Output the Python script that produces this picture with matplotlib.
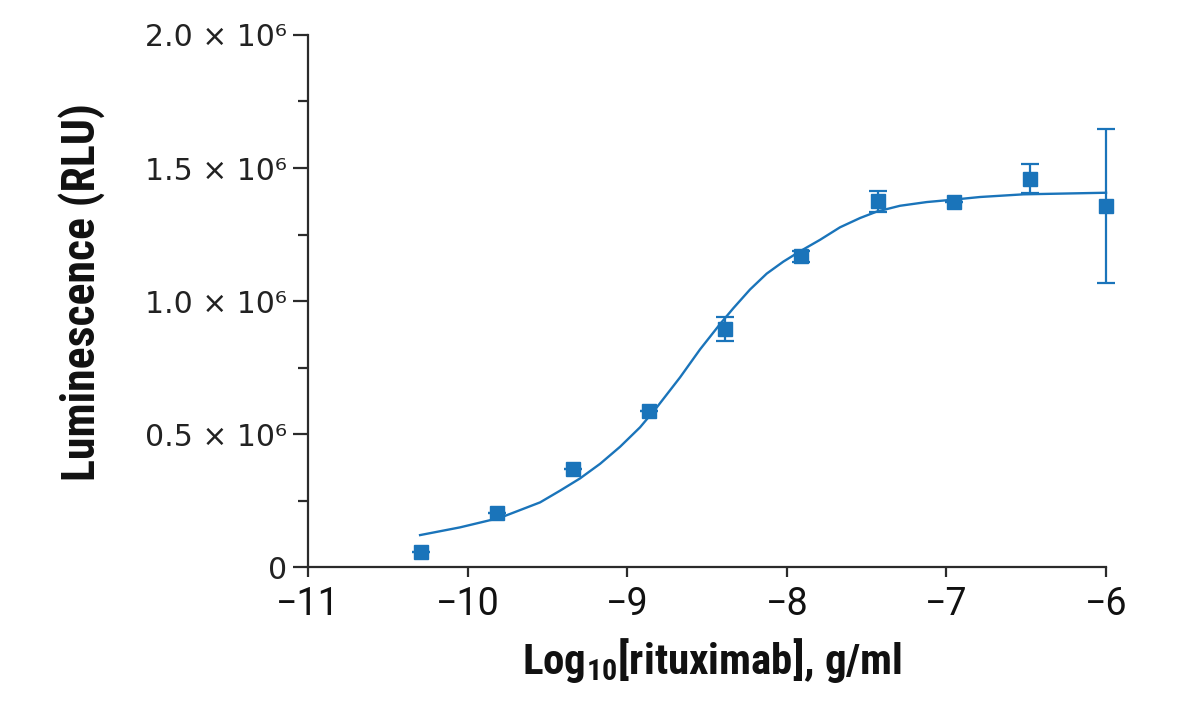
import matplotlib
matplotlib.use("Agg")
import matplotlib.pyplot as plt
from matplotlib.ticker import FixedLocator, MultipleLocator

# measured points (log10 g/ml) with mean luminescence and error
log_conc = [-10.29, -9.817, -9.34, -8.863, -8.386, -7.909, -7.431, -6.954, -6.477, -6.0]
lum = [0.056e6, 0.202e6, 0.367e6, 0.588e6, 0.894e6, 1.168e6, 1.375e6, 1.371e6, 1.46e6, 1.357e6]
lum_err = [0.0, 0.0, 0.0, 0.0, 0.044e6, 0.02e6, 0.04e6, 0.0, 0.055e6, 0.288e6]

# fitted curve
curve_x = [-10.298, -10.048, -9.797, -9.546, -9.421, -9.296, -9.170, -9.045, -8.920,
           -8.815, -8.669, -8.544, -8.419, -8.335, -8.231, -8.126, -8.022, -7.917,
           -7.792, -7.667, -7.541, -7.437, -7.291, -7.123, -6.957, -6.789, -6.518, -6.0]
curve_y = [0.120e6, 0.149e6, 0.185e6, 0.243e6, 0.287e6, 0.333e6, 0.388e6, 0.452e6, 0.525e6,
           0.600e6, 0.713e6, 0.818e6, 0.913e6, 0.973e6, 1.043e6, 1.103e6, 1.148e6, 1.187e6,
           1.230e6, 1.277e6, 1.312e6, 1.336e6, 1.358e6, 1.372e6, 1.381e6, 1.391e6, 1.401e6,
           1.407e6]

y_ticks = [0, 0.5e6, 1.0e6, 1.5e6, 2.0e6]
y_ticklabels = ["0", "0.5 \u00d7 10\u2076", "1.0 \u00d7 10\u2076", "1.5 \u00d7 10\u2076", "2.0 \u00d7 10\u2076"]
x_ticks = [-11, -10, -9, -8, -7, -6]
x_ticklabels = ["\u221211", "\u221210", "\u22129", "\u22128", "\u22127", "\u22126"]

blue = "#1a74ba"
dark = "#2b2b2b"
narrow = ["Roboto Condensed", "Liberation Sans Narrow", "Roboto", "DejaVu Sans"]

fig = plt.figure(figsize=(11.78, 7.07), dpi=100)
ax = fig.add_axes([0.2615, 0.198, 0.6774, 0.7525])

ax.plot(curve_x, curve_y, color=blue, lw=1.7, clip_on=False, zorder=2,
        solid_joinstyle="round")
ax.errorbar(log_conc, lum, yerr=lum_err, fmt="s", color=blue, ms=10.5,
            elinewidth=1.6, capsize=6.5, capthick=1.6, clip_on=False, zorder=3)

ax.set_xlim(-11, -6)
ax.set_ylim(0, 2.0e6)

for side in ["top", "right"]:
    ax.spines[side].set_visible(False)
for side in ["left", "bottom"]:
    ax.spines[side].set_color(dark)
    ax.spines[side].set_linewidth(1.6)

ax.yaxis.set_major_locator(FixedLocator(y_ticks))
ax.yaxis.set_minor_locator(MultipleLocator(0.25e6))
ax.set_yticklabels(y_ticklabels, fontfamily=["DejaVu Sans"], fontsize=21.5, color="#222222")
ax.set_xticks(x_ticks)
ax.set_xticklabels(x_ticklabels, fontfamily=["Roboto", "DejaVu Sans"], fontsize=27,
                   color="#111111")

ax.tick_params(axis="y", which="major", length=11, width=1.6, color=dark, pad=4)
ax.tick_params(axis="y", which="minor", length=7, width=1.6, color=dark)
ax.tick_params(axis="x", which="major", length=7, width=1.6, color=dark, pad=7)

ax.set_ylabel("Luminescence (RLU)", fontfamily=narrow, fontweight="bold", fontsize=33,
              color="#111111")
ax.yaxis.set_label_coords(-0.254, 0.517)
ax.set_xlabel("Log$_{\\mathregular{10}}$[rituximab], g/ml", fontfamily=narrow,
              fontweight="bold", fontsize=31, color="#111111")
ax.xaxis.set_label_coords(0.506, -0.13)

fig.savefig("out.png", dpi=100)
